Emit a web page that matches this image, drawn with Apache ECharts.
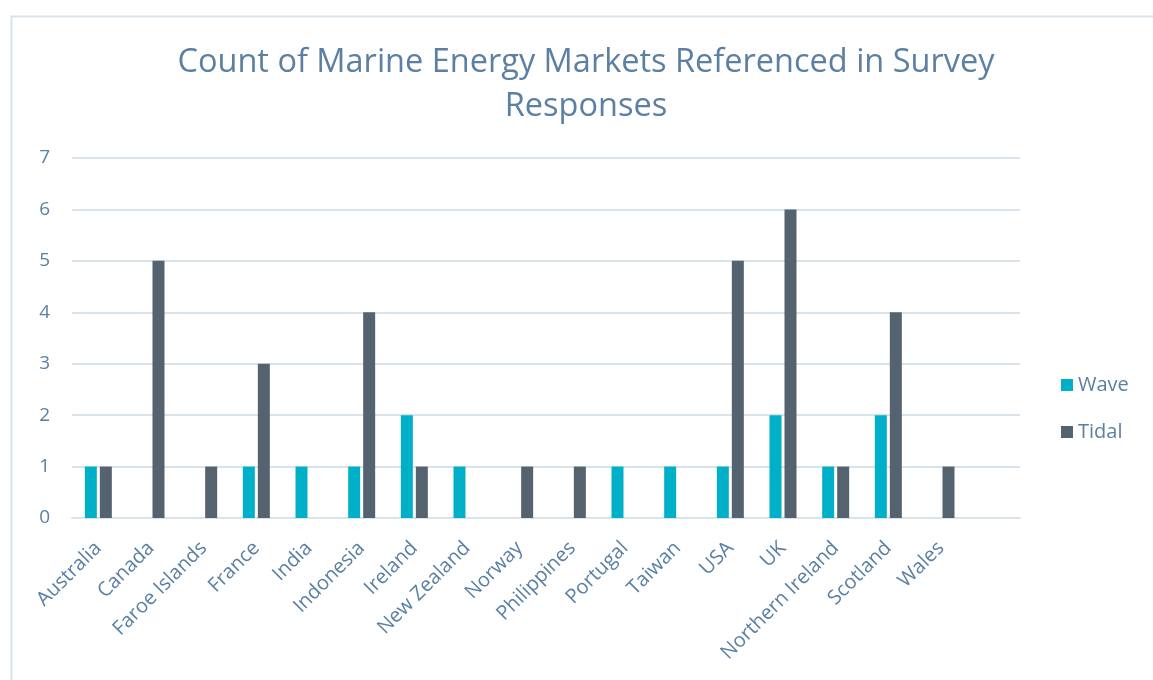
<!DOCTYPE html>
<html>
<head>
<meta charset="utf-8">
<script src="https://cdn.jsdelivr.net/npm/echarts@6/dist/echarts.min.js"></script>
<style>
html,body{margin:0;padding:0;background:#fff;}
#chart{width:1153px;height:680px;}
</style>
</head>
<body>
<div id="chart"></div>
<script>
const titleText = 'Count of Marine Energy Markets Referenced in Survey\nResponses';
const categories = ['Australia','Canada','Faroe Islands','France','India','Indonesia','Ireland','New Zealand','Norway','Philippines','Portugal','Taiwan','USA','UK','Northern Ireland','Scotland','Wales'];
const waveValues  = [1,0,0,1,1,1,2,1,0,0,1,1,1,2,1,2,0];
const tidalValues = [1,5,1,3,0,4,1,0,1,1,0,0,5,6,1,4,1];
const yTicks = [0,1,2,3,4,5,6,7];

const textColor = '#5b80a3';
const fontFam = '"Open Sans", "Noto Sans", sans-serif';

const chart = echarts.init(document.getElementById('chart'), null, {renderer:'canvas'});
chart.setOption({
  animation:false,
  backgroundColor:'#ffffff',
  graphic:[{
    type:'rect', left:9, top:14, z:-1,
    shape:{width:1200, height:720},
    style:{fill:'none', stroke:'#d9e3ec', lineWidth:2}
  }],
  title:{
    text:titleText,
    left:586, top:41, textAlign:'center', padding:0,
    textStyle:{color:textColor, fontFamily:fontFam, fontSize:32.5, fontWeight:'normal', lineHeight:44}
  },
  legend:{
    orient:'vertical', left:1061, top:375, padding:0, itemWidth:12, itemHeight:12, itemGap:27,
    icon:'rect',
    textStyle:{color:textColor, fontFamily:fontFam, fontSize:20},
    data:['Wave','Tidal']
  },
  grid:{left:72, right:133, top:158, bottom:162, containLabel:false},
  xAxis:{
    type:'category',
    data:categories.concat(['']),
    axisLine:{show:true, lineStyle:{color:'#d9e3ec', width:2}},
    axisTick:{show:false},
    axisLabel:{rotate:45, interval:0, margin:27, color:textColor, fontFamily:fontFam, fontSize:20}
  },
  yAxis:{
    type:'value', min:yTicks[0], max:yTicks[yTicks.length-1], interval:1,
    axisLine:{show:false}, axisTick:{show:false},
    splitLine:{lineStyle:{color:'#d9e3ec', width:2}},
    axisLabel:{margin:22, color:textColor, fontFamily:fontFam, fontSize:19}
  },
  series:[
    {name:'Wave', type:'bar', data:waveValues, barWidth:12, barGap:'25%',
     itemStyle:{color:'#00b0c8'}},
    {name:'Tidal', type:'bar', data:tidalValues, barWidth:12,
     itemStyle:{color:'#55626f'}}
  ]
});
</script>
</body>
</html>
